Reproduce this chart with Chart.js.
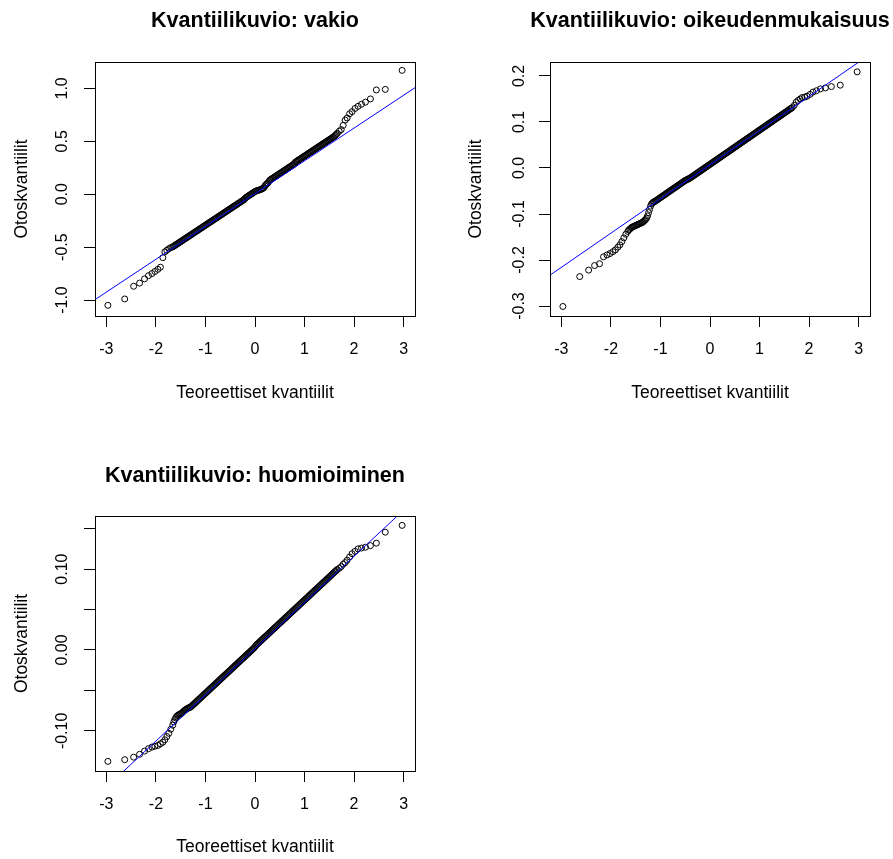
<!DOCTYPE html>
<html lang="fi">
<head>
    <meta charset="UTF-8">
    <title>Kvantiilikuviot</title>
    <script src="https://cdn.jsdelivr.net/npm/chart.js@4.4.1/dist/chart.umd.min.js"></script>
    <style>
        html, body { margin: 0; padding: 0; background: #fff; overflow: hidden; }
        body { width: 893px; height: 859px; position: relative; }
        canvas { position: absolute; }
    </style>
</head>
<body>
    <canvas id="vakioChart" width="446" height="430" style="left:0;top:0"></canvas>
    <canvas id="oikeusChart" width="447" height="430" style="left:446px;top:0"></canvas>
    <canvas id="huomioChart" width="446" height="429" style="left:0;top:430px"></canvas>

    <script>
        // teoreettiset kvantiilit (x), luettu kuvasta; keskiosa on tiheä nauha
        const theoQuantiles = [
            -2.97, -2.63, -2.45, -2.33, -2.23, -2.15, -2.08, -2.02, -1.96, -1.91, -1.86, -1.82, -1.78, -1.74, -1.70,
            -1.66, -1.64, -1.62, -1.60, -1.58, -1.56, -1.54, -1.52, -1.50, -1.48,
            -1.46, -1.44, -1.42, -1.40, -1.38, -1.36, -1.34, -1.32, -1.30, -1.28,
            -1.26, -1.24, -1.22, -1.20, -1.18, -1.16, -1.14, -1.12, -1.10, -1.08,
            -1.06, -1.04, -1.02, -1.00, -0.98, -0.96, -0.94, -0.92, -0.90, -0.88,
            -0.86, -0.84, -0.82, -0.80, -0.78, -0.76, -0.74, -0.72, -0.70, -0.68,
            -0.66, -0.64, -0.62, -0.60, -0.58, -0.56, -0.54, -0.52, -0.50, -0.48,
            -0.46, -0.44, -0.42, -0.40, -0.38, -0.36, -0.34, -0.32, -0.30, -0.28,
            -0.26, -0.24, -0.22, -0.20, -0.18, -0.16, -0.14, -0.12, -0.10, -0.08,
            -0.06, -0.04, -0.02, 0.00, 0.02, 0.04, 0.06, 0.08, 0.10, 0.12,
            0.14, 0.16, 0.18, 0.20, 0.22, 0.24, 0.26, 0.28, 0.30, 0.32,
            0.34, 0.36, 0.38, 0.40, 0.42, 0.44, 0.46, 0.48, 0.50, 0.52,
            0.54, 0.56, 0.58, 0.60, 0.62, 0.64, 0.66, 0.68, 0.70, 0.72,
            0.74, 0.76, 0.78, 0.80, 0.82, 0.84, 0.86, 0.88, 0.90, 0.92,
            0.94, 0.96, 0.98, 1.00, 1.02, 1.04, 1.06, 1.08, 1.10, 1.12,
            1.14, 1.16, 1.18, 1.20, 1.22, 1.24, 1.26, 1.28, 1.30, 1.32,
            1.34, 1.36, 1.38, 1.40, 1.42, 1.44, 1.46, 1.48, 1.50, 1.52,
            1.54, 1.56, 1.58, 1.60, 1.62, 1.64, 1.66,
            1.70, 1.74, 1.78, 1.82, 1.86, 1.91, 1.96, 2.02, 2.08, 2.15, 2.23, 2.33, 2.45, 2.63, 2.97
        ];

        // otoskvantiilit (y) kullekin muuttujalle
        const vakio = [
            -1.05, -0.99, -0.87, -0.84, -0.80, -0.77, -0.75, -0.73, -0.71, -0.69, -0.60, -0.545, -0.53, -0.515, -0.505,
            -0.498, -0.491, -0.485, -0.479, -0.473, -0.467, -0.460, -0.454, -0.448, -0.442,
            -0.436, -0.429, -0.423, -0.417, -0.411, -0.405, -0.398, -0.392, -0.386, -0.380,
            -0.374, -0.367, -0.361, -0.355, -0.349, -0.343, -0.336, -0.330, -0.324, -0.318,
            -0.312, -0.305, -0.299, -0.293, -0.287, -0.281, -0.274, -0.268, -0.262, -0.256,
            -0.250, -0.243, -0.237, -0.231, -0.225, -0.219, -0.212, -0.206, -0.200, -0.194,
            -0.188, -0.181, -0.175, -0.169, -0.163, -0.157, -0.150, -0.144, -0.138, -0.132,
            -0.126, -0.119, -0.113, -0.107, -0.101, -0.095, -0.088, -0.082, -0.076, -0.070,
            -0.064, -0.057, -0.051, -0.040, -0.031, -0.025, -0.018, -0.012, -0.006, 0.000,
            0.006, 0.013, 0.019, 0.025, 0.030, 0.033, 0.036, 0.039, 0.042, 0.046,
            0.050, 0.055, 0.062, 0.078, 0.090, 0.098, 0.106, 0.120, 0.133, 0.139,
            0.145, 0.152, 0.158, 0.164, 0.170, 0.176, 0.183, 0.189, 0.195, 0.201,
            0.207, 0.214, 0.220, 0.226, 0.232, 0.238, 0.245, 0.251, 0.257, 0.263,
            0.269, 0.276, 0.282, 0.292, 0.304, 0.310, 0.317, 0.323, 0.329, 0.335,
            0.341, 0.348, 0.354, 0.360, 0.366, 0.372, 0.379, 0.385, 0.391, 0.397,
            0.403, 0.410, 0.416, 0.422, 0.428, 0.434, 0.441, 0.447, 0.453, 0.459,
            0.465, 0.472, 0.478, 0.484, 0.490, 0.496, 0.503, 0.509, 0.515, 0.521,
            0.527, 0.534, 0.540, 0.547, 0.555, 0.565, 0.575,
            0.595, 0.61, 0.65, 0.70, 0.72, 0.76, 0.78, 0.81, 0.83, 0.85, 0.87, 0.90, 0.985, 0.99, 1.17
        ];
        const oikeudenmukaisuus = [
            -0.301, -0.236, -0.222, -0.212, -0.208, -0.193, -0.189, -0.186, -0.182, -0.178, -0.172, -0.167, -0.160, -0.152, -0.144,
            -0.138, -0.135, -0.133, -0.131, -0.129, -0.128, -0.127, -0.126, -0.125, -0.124,
            -0.123, -0.122, -0.121, -0.120, -0.119, -0.118, -0.116, -0.114, -0.112, -0.109,
            -0.104, -0.097, -0.090, -0.083, -0.078, -0.076, -0.074, -0.073, -0.0717, -0.0702,
            -0.0688, -0.0673, -0.0658, -0.0643, -0.0628, -0.0613, -0.0598, -0.0584, -0.0569, -0.0554,
            -0.0539, -0.0524, -0.0509, -0.0494, -0.0480, -0.0465, -0.0450, -0.0435, -0.0420, -0.0405,
            -0.0390, -0.0376, -0.0361, -0.0346, -0.0331, -0.0316, -0.0301, -0.0286, -0.0272, -0.0262,
            -0.0250, -0.0237, -0.0232, -0.0217, -0.0202, -0.0187, -0.0173, -0.0158, -0.0143, -0.0128,
            -0.0113, -0.0098, -0.0083, -0.0069, -0.0054, -0.0039, -0.0024, -0.0009, 0.0006, 0.0021,
            0.0035, 0.0050, 0.0065, 0.0080, 0.0095, 0.0110, 0.0125, 0.0139, 0.0154, 0.0169,
            0.0184, 0.0199, 0.0214, 0.0229, 0.0243, 0.0258, 0.0273, 0.0288, 0.0303, 0.0318,
            0.0333, 0.0347, 0.0362, 0.0377, 0.0392, 0.0407, 0.0422, 0.0437, 0.0452, 0.0466,
            0.0481, 0.0496, 0.0511, 0.0526, 0.0541, 0.0556, 0.0570, 0.0585, 0.0600, 0.0615,
            0.0630, 0.0645, 0.0660, 0.0674, 0.0689, 0.0704, 0.0719, 0.0734, 0.0749, 0.0764,
            0.0778, 0.0793, 0.0808, 0.0823, 0.0838, 0.0853, 0.0868, 0.0882, 0.0897, 0.0912,
            0.0927, 0.0942, 0.0957, 0.0972, 0.0986, 0.1001, 0.1016, 0.1031, 0.1046, 0.1061,
            0.1076, 0.1090, 0.1105, 0.1120, 0.1135, 0.1150, 0.1165, 0.1180, 0.1194, 0.1209,
            0.1224, 0.1239, 0.1254, 0.1269, 0.1284, 0.1299, 0.1313,
            0.136, 0.143, 0.147, 0.150, 0.153, 0.154, 0.156, 0.160, 0.165, 0.168, 0.172, 0.174, 0.177, 0.180, 0.209
        ];
        const huomioiminen = [
            -0.1377, -0.1356, -0.1325, -0.129, -0.125, -0.122, -0.120, -0.119, -0.118, -0.116, -0.114, -0.111, -0.107, -0.103, -0.098,
            -0.093, -0.089, -0.086, -0.084, -0.082, -0.081, -0.080, -0.0795, -0.079, -0.078,
            -0.077, -0.0758, -0.0745, -0.0738, -0.073, -0.0722, -0.0715, -0.0711, -0.0706, -0.0695,
            -0.0683, -0.0672, -0.0661, -0.0649, -0.0638, -0.0626, -0.0615, -0.0604, -0.0592, -0.0581,
            -0.0569, -0.0558, -0.0546, -0.0535, -0.0524, -0.0512, -0.0501, -0.0489, -0.0478, -0.0466,
            -0.0455, -0.0444, -0.0432, -0.0421, -0.0409, -0.0398, -0.0387, -0.0375, -0.0364, -0.0352,
            -0.0341, -0.0329, -0.0318, -0.0307, -0.0295, -0.0284, -0.0272, -0.0261, -0.0250, -0.0238,
            -0.0227, -0.0215, -0.0204, -0.0192, -0.0181, -0.0170, -0.0158, -0.0147, -0.0135, -0.0124,
            -0.0112, -0.0101, -0.0090, -0.0078, -0.0067, -0.0055, -0.0044, -0.0033, -0.0021, -0.0010,
            0.0002, 0.0013, 0.0025, 0.0040, 0.0057, 0.0069, 0.0080, 0.0092, 0.0103, 0.0115,
            0.0126, 0.0137, 0.0149, 0.0160, 0.0172, 0.0183, 0.0194, 0.0206, 0.0217, 0.0229,
            0.0240, 0.0252, 0.0263, 0.0274, 0.0286, 0.0297, 0.0309, 0.0320, 0.0332, 0.0343,
            0.0354, 0.0366, 0.0377, 0.0389, 0.0400, 0.0411, 0.0423, 0.0434, 0.0446, 0.0457,
            0.0469, 0.0480, 0.0491, 0.0503, 0.0514, 0.0526, 0.0537, 0.0548, 0.0560, 0.0571,
            0.0583, 0.0594, 0.0606, 0.0617, 0.0628, 0.0640, 0.0651, 0.0663, 0.0674, 0.0686,
            0.0697, 0.0708, 0.0720, 0.0731, 0.0743, 0.0754, 0.0765, 0.0777, 0.0788, 0.0800,
            0.0811, 0.0823, 0.0834, 0.0845, 0.0857, 0.0868, 0.0880, 0.0891, 0.0903, 0.0914,
            0.0925, 0.0937, 0.0948, 0.0960, 0.0971, 0.0982, 0.0994,
            0.101, 0.103, 0.106, 0.108, 0.111, 0.115, 0.119, 0.122, 0.125, 0.126, 0.127, 0.129, 0.132, 0.1456, 0.154
        ];

        // qqline: päätepisteet kohdissa x = lineEnds
        const lineEnds = [-3.3, 3.3];
        const vakioLine = [-1.018, 1.028];
        const oikeusLine = [-0.2382, 0.2522];
        const huomioLine = [-0.1868, 0.1900];

        // akselit
        const xRange = [-3.23, 3.23];
        const xTickValues = [-3, -2, -1, 0, 1, 2, 3];
        const xTickLabels = ['-3', '-2', '-1', '0', '1', '2', '3'];
        const vakioRange = [-1.151, 1.249];
        const vakioTicks = [-1, -0.5, 0, 0.5, 1];
        const vakioTickLabels = ['-1.0', '-0.5', '0.0', '0.5', '1.0'];
        const oikeusRange = [-0.3217, 0.2304];
        const oikeusTicks = [-0.3, -0.2, -0.1, 0, 0.1, 0.2];
        const oikeusTickLabels = ['-0.3', '-0.2', '-0.1', '0.0', '0.1', '0.2'];
        const huomioRange = [-0.1496, 0.1656];
        const huomioTicks = [-0.10, -0.05, 0, 0.05, 0.10, 0.15];
        const huomioTickLabels = ['-0.10', '', '0.00', '', '0.10', ''];

        const titles = ['Kvantiilikuvio: vakio', 'Kvantiilikuvio: oikeudenmukaisuus', 'Kvantiilikuvio: huomioiminen'];
        const xAxisTitle = 'Teoreettiset kvantiilit';
        const yAxisTitle = 'Otoskvantiilit';

        const FONT = "'Liberation Sans', Arial, sans-serif";
        const TICK_SIZE = 16, LABEL_SIZE = 17.5, TICK_LEN = 11;
        Chart.defaults.font.family = FONT;
        Chart.defaults.color = '#000';

        function widest(labels) {
            const ctx = document.createElement('canvas').getContext('2d');
            ctx.font = TICK_SIZE + 'px ' + FONT;
            return Math.max(...labels.map(t => ctx.measureText(t).width));
        }

        // laatikko ja otsikko
        const framePlugin = {
            id: 'frame',
            afterDraw(chart, args, opts) {
                const { ctx, chartArea: a } = chart;
                ctx.save();
                ctx.strokeStyle = '#000';
                ctx.lineWidth = 1;
                ctx.strokeRect(a.left + 0.5, a.top + 0.5, a.right - a.left, a.bottom - a.top);
                ctx.font = 'bold 21.5px ' + FONT;
                ctx.fillStyle = '#000';
                ctx.textAlign = 'center';
                ctx.textBaseline = 'alphabetic';
                ctx.fillText(opts.text, (a.left + a.right) / 2, opts.y);
                ctx.restore();
            }
        };

        function drawPanel(p) {
            const canvas = document.getElementById(p.id);
            const W = canvas.width, H = canvas.height;
            const lh = LABEL_SIZE * 1.2;
            new Chart(canvas, {
                type: 'scatter',
                data: {
                    datasets: [
                        {
                            data: lineEnds.map((x, i) => ({ x, y: p.line[i] })),
                            showLine: true,
                            borderColor: '#0000ff',
                            borderWidth: 1,
                            pointRadius: 0,
                            clip: 0
                        },
                        {
                            data: theoQuantiles.map((x, i) => ({ x, y: p.ys[i] })),
                            pointStyle: 'circle',
                            pointRadius: 3,
                            pointBorderWidth: 1,
                            pointBorderColor: '#000',
                            pointBackgroundColor: 'rgba(0,0,0,0)'
                        }
                    ]
                },
                options: {
                    responsive: false,
                    animation: false,
                    events: [],
                    layout: { padding: { left: 0, top: p.box.top, right: W - p.box.right, bottom: 0 } },
                    plugins: {
                        legend: { display: false },
                        tooltip: { enabled: false },
                        frame: { text: p.title, y: p.titleY }
                    },
                    scales: {
                        x: {
                            type: 'linear',
                            position: 'bottom',
                            bounds: 'data',
                            min: xRange[0],
                            max: xRange[1],
                            afterFit: s => { s.height = H - p.box.bottom; },
                            afterBuildTicks: s => { s.ticks = xTickValues.map(v => ({ value: v })); },
                            ticks: {
                                autoSkip: false,
                                minRotation: 0,
                                maxRotation: 0,
                                padding: 34 - TICK_LEN - TICK_SIZE * 0.6,
                                font: { size: TICK_SIZE },
                                color: '#000',
                                callback: (v, i) => xTickLabels[i]
                            },
                            grid: { drawOnChartArea: false, drawTicks: true, tickLength: TICK_LEN, color: '#000', lineWidth: 1 },
                            border: { display: false },
                            title: {
                                display: true, text: xAxisTitle, color: '#000',
                                font: { size: LABEL_SIZE },
                                padding: { top: 0, bottom: H - p.xTitleY - lh / 2 }
                            }
                        },
                        y: {
                            type: 'linear',
                            position: 'left',
                            bounds: 'data',
                            min: p.range[0],
                            max: p.range[1],
                            afterFit: s => { s.width = p.box.left; },
                            afterBuildTicks: s => { s.ticks = p.ticks.map(v => ({ value: v })); },
                            ticks: {
                                autoSkip: false,
                                minRotation: 90,
                                maxRotation: 90,
                                crossAlign: 'center',
                                padding: p.yLabelOffset - TICK_LEN - widest(p.tickLabels) / 2,
                                font: { size: TICK_SIZE },
                                color: '#000',
                                callback: (v, i) => p.tickLabels[i]
                            },
                            grid: { drawOnChartArea: false, drawTicks: true, tickLength: TICK_LEN, color: '#000', lineWidth: 1 },
                            border: { display: false },
                            title: {
                                display: true, text: yAxisTitle, color: '#000',
                                font: { size: LABEL_SIZE },
                                padding: { top: p.yTitleX - lh / 2, bottom: 0 }
                            }
                        }
                    }
                },
                plugins: [framePlugin]
            });
        }

        drawPanel({
            id: 'vakioChart', title: titles[0], ys: vakio, line: vakioLine,
            range: vakioRange, ticks: vakioTicks, tickLabels: vakioTickLabels,
            box: { left: 95, top: 62, right: 415, bottom: 316 },
            titleY: 26.5, xTitleY: 393, yTitleX: 22, yLabelOffset: 32
        });
        drawPanel({
            id: 'oikeusChart', title: titles[1], ys: oikeudenmukaisuus, line: oikeusLine,
            range: oikeusRange, ticks: oikeusTicks, tickLabels: oikeusTickLabels,
            box: { left: 104, top: 62, right: 424, bottom: 316 },
            titleY: 26.5, xTitleY: 393, yTitleX: 30.4, yLabelOffset: 30.5
        });
        drawPanel({
            id: 'huomioChart', title: titles[2], ys: huomioiminen, line: huomioLine,
            range: huomioRange, ticks: huomioTicks, tickLabels: huomioTickLabels,
            box: { left: 95, top: 86, right: 415, bottom: 341 },
            titleY: 51.5, xTitleY: 417.5, yTitleX: 22, yLabelOffset: 32
        });
    </script>
</body>
</html>
